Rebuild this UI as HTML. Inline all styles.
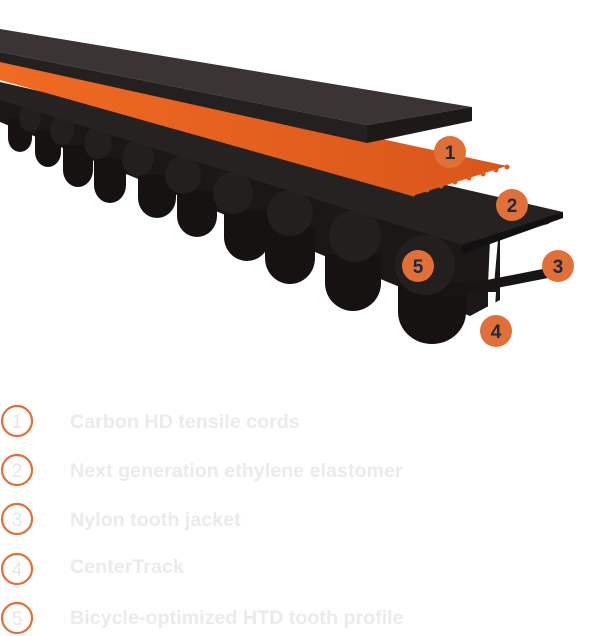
<!DOCTYPE html>
<html><head><meta charset="utf-8"><style>
html,body{margin:0;padding:0;background:#fff;width:604px;height:636px;overflow:hidden}
svg{display:block}
</style></head><body>
<svg width="604" height="636" viewBox="0 0 604 636" xmlns="http://www.w3.org/2000/svg">
<defs>
<linearGradient id="og" x1="0" y1="0" x2="1" y2="0"><stop offset="0" stop-color="#f06a22"/><stop offset="1" stop-color="#d9561a"/></linearGradient>
</defs>
<!-- teeth / body -->
<polygon points="0,90 563,213 548,224 500,236 500,300 470,316 0,122" fill="#1a1716"/>
<g fill="#151211">
<ellipse cx="20" cy="138" rx="12" ry="14"/><rect x="8" y="118" width="24" height="20"/>
<ellipse cx="48" cy="152" rx="13" ry="15"/><rect x="35" y="130" width="26" height="22"/>
<ellipse cx="78" cy="170" rx="15" ry="17"/><rect x="63" y="145" width="30" height="25"/>
<ellipse cx="110" cy="185" rx="16" ry="18"/><rect x="94" y="158" width="32" height="27"/>
<ellipse cx="157" cy="198" rx="19" ry="20"/><rect x="138" y="175" width="38" height="23"/>
<ellipse cx="197" cy="216" rx="20" ry="21"/><rect x="177" y="190" width="40" height="26"/>
<ellipse cx="247" cy="237" rx="23" ry="24"/><rect x="224" y="210" width="46" height="27"/>
<ellipse cx="290" cy="258" rx="25" ry="26"/><rect x="265" y="228" width="50" height="30"/>
<ellipse cx="353" cy="283" rx="28" ry="28"/><rect x="325" y="255" width="56" height="28"/>
<ellipse cx="432" cy="312" rx="34" ry="32"/><rect x="398" y="282" width="68" height="30"/>
</g>
<g fill="#231f1e">
<ellipse cx="30" cy="118" rx="11" ry="14"/>
<ellipse cx="62" cy="130" rx="12" ry="15"/>
<ellipse cx="98" cy="143" rx="14" ry="16"/>
<ellipse cx="138" cy="158" rx="16" ry="18"/>
<ellipse cx="183" cy="175" rx="18" ry="19"/>
<ellipse cx="233" cy="193" rx="20" ry="21"/>
<ellipse cx="290" cy="213" rx="23" ry="23"/>
<ellipse cx="355" cy="236" rx="26" ry="26"/>
<ellipse cx="425" cy="265" rx="30" ry="30"/>
</g>
<!-- white gap at front -->
<polygon points="490,240 498,240 494,285 488,285" fill="#fff"/>
<polygon points="488,292 496,292 494,325 488,325" fill="#fff"/>
<polygon points="500,268 548,258 548,268 500,280" fill="#fff"/>
<polygon points="446,288 548,268 548,278 446,298" fill="#171514"/>
<!-- body top face -->
<polygon points="0,82 563,212 462,245 0,100" fill="#262221"/>
<polygon points="462,245 563,212 563,218 462,254" fill="#111"/>
<!-- orange cords band -->
<polygon points="0,57 507,166 412,196 0,80" fill="url(#og)"/>
<g fill="#e05a1a">
<circle cx="413" cy="194" r="2.5"/><circle cx="427" cy="190" r="2.5"/><circle cx="441" cy="186" r="2.5"/><circle cx="455" cy="182" r="2.5"/><circle cx="469" cy="178" r="2.5"/><circle cx="483" cy="174" r="2.5"/><circle cx="496" cy="170" r="2.5"/><circle cx="507" cy="167" r="2.5"/>
</g>
<!-- top strip -->
<polygon points="0,29 472,107 367,125 0,52" fill="#3a3534"/>
<polygon points="367,125 472,107 472,121 367,143" fill="#1c1918"/>
<polygon points="0,52 367,125 367,143 0,62" fill="#242020"/>
<!-- callouts -->
<g fill="#e07038">
<circle cx="450" cy="152" r="16"/><circle cx="512" cy="205" r="16"/><circle cx="558" cy="266" r="16"/><circle cx="496" cy="331" r="16"/><circle cx="418" cy="266" r="16"/>
</g>
<g fill="#1c2a40" font-family="Liberation Sans, sans-serif" font-weight="bold" font-size="19" text-anchor="middle">
<text x="450" y="159">1</text><text x="512" y="212">2</text><text x="558" y="273">3</text><text x="496" y="338">4</text><text x="418" y="273">5</text>
</g>
<!-- legend -->
<g fill="none" stroke="#e07038" stroke-width="2.2">
<circle cx="17" cy="421" r="15"/><circle cx="17" cy="470" r="15"/><circle cx="17" cy="519" r="15"/><circle cx="17" cy="569" r="15"/><circle cx="17" cy="618" r="15"/>
</g>
<g fill="#e6e6e6" font-family="Liberation Sans, sans-serif" font-size="19" text-anchor="middle">
<text x="17" y="428">1</text><text x="17" y="477">2</text><text x="17" y="526">3</text><text x="17" y="576">4</text><text x="17" y="625">5</text>
</g>
<g fill="#ebebeb" font-family="Liberation Sans, sans-serif" font-weight="bold" font-size="19.7">
<text x="70" y="428">Carbon HD tensile cords</text>
<text x="70" y="477">Next generation ethylene elastomer</text>
<text x="70" y="526">Nylon tooth jacket</text>
<text x="70" y="573">CenterTrack</text>
<text x="70" y="624">Bicycle-optimized HTD tooth profile</text>
</g>
</svg>
</body></html>
